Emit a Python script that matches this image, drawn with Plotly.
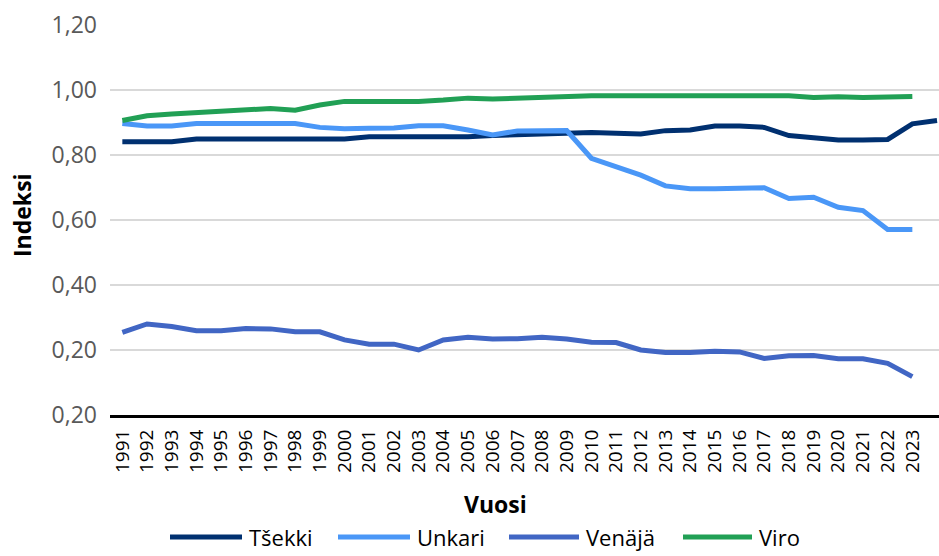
import plotly.graph_objects as go

years = list(range(1991, 2025))
tick_years = list(range(1991, 2024))
tick_labels = [str(y) for y in tick_years]

y_tickvals = [0, 0.2, 0.4, 0.6, 0.8, 1.0, 1.2]
y_ticktext = ["0,20", "0,20", "0,40", "0,60", "0,80", "1,00", "1,20"]

tsekki = [0.841, 0.841, 0.841, 0.849, 0.849, 0.849, 0.849, 0.849, 0.849, 0.849,
          0.856, 0.856, 0.856, 0.856, 0.856, 0.860, 0.862, 0.864, 0.865, 0.869,
          0.867, 0.865, 0.875, 0.877, 0.889, 0.889, 0.885, 0.860, 0.853, 0.846,
          0.846, 0.848, 0.896, 0.906]
unkari = [0.897, 0.889, 0.889, 0.897, 0.897, 0.897, 0.897, 0.897, 0.885, 0.881,
          0.882, 0.883, 0.890, 0.890, 0.877, 0.862, 0.874, 0.874, 0.875, 0.790,
          0.766, 0.738, 0.705, 0.696, 0.696, 0.697, 0.699, 0.666, 0.670, 0.639,
          0.629, 0.571, 0.571]
venaja = [0.254, 0.280, 0.272, 0.259, 0.259, 0.266, 0.265, 0.256, 0.256, 0.231,
          0.218, 0.218, 0.200, 0.231, 0.239, 0.234, 0.235, 0.239, 0.234, 0.224,
          0.223, 0.200, 0.192, 0.192, 0.196, 0.194, 0.174, 0.182, 0.183, 0.173,
          0.173, 0.159, 0.118]
viro = [0.906, 0.921, 0.926, 0.930, 0.933, 0.938, 0.943, 0.938, 0.954, 0.965,
        0.965, 0.965, 0.965, 0.969, 0.975, 0.972, 0.975, 0.977, 0.979, 0.982,
        0.982, 0.982, 0.982, 0.982, 0.982, 0.982, 0.982, 0.982, 0.977, 0.979,
        0.977, 0.980, 0.980]

series_names = ["Tšekki", "Unkari", "Venäjä", "Viro"]
series_values = [tsekki, unkari, venaja, viro]
colors = ["#003070", "#4a97f7", "#4166c4", "#21a055"]

FONT = "Open Sans, Noto Sans, sans-serif"

fig = go.Figure()
for name, vals, col in zip(series_names, series_values, colors):
    fig.add_trace(go.Scatter(
        x=years[:len(vals)], y=vals, name=name, mode="lines",
        line=dict(color=col, width=5), showlegend=False,
    ))

# Plot geometry (pixels) for custom legend placement
L, R, T, B = 110, 939, 25, 415
W, H = R - L, B - T

def px_x(p):
    return (p - L) / W

def px_y(p):
    return (B - p) / H

legend_items = [(170, 242, 247), (338, 410, 415), (509, 579, 584), (683, 752, 757)]
shapes = []
annotations = []
ly = 537
for (x0, x1, tx), name, col in zip(legend_items, series_names, colors):
    shapes.append(dict(type="line", xref="paper", yref="paper",
                       x0=px_x(x0), x1=px_x(x1), y0=px_y(ly), y1=px_y(ly),
                       line=dict(color=col, width=5)))
    annotations.append(dict(text=name, xref="paper", yref="paper",
                            x=px_x(tx), y=px_y(ly), xanchor="left", yanchor="middle",
                            showarrow=False, font=dict(family=FONT, size=22, color="#000000")))

annotations.append(dict(text="<b>Vuosi</b>", xref="paper", yref="paper",
                        x=px_x(495), y=px_y(504), xanchor="center", yanchor="middle",
                        showarrow=False, font=dict(family=FONT, size=23, color="#000000")))
annotations.append(dict(text="<b>Indeksi</b>", xref="paper", yref="paper",
                        x=px_x(22), y=px_y(215), xanchor="center", yanchor="middle",
                        textangle=-90, showarrow=False,
                        font=dict(family=FONT, size=23, color="#000000")))

fig.update_layout(
    width=939, height=556,
    margin=dict(l=L, r=939 - R, t=T, b=556 - B, pad=0),
    paper_bgcolor="white", plot_bgcolor="white",
    font=dict(family=FONT),
    shapes=shapes, annotations=annotations,
    xaxis=dict(
        range=[1990.5, 2024.08], tickmode="array", tickvals=tick_years, ticktext=tick_labels,
        tickangle=-90, tickfont=dict(family=FONT, size=19, color="#000000"),
        showgrid=False, zeroline=False, showline=True, linecolor="#000000", linewidth=3,
        ticks="", ticklabelstandoff=4,
    ),
    yaxis=dict(
        range=[0, 1.2], tickmode="array", tickvals=y_tickvals, ticktext=y_ticktext,
        tickfont=dict(family=FONT, size=23, color="#595959"),
        showgrid=True, gridcolor="#d9d9d9", gridwidth=1.5, zeroline=False,
        showline=False, ticks="", ticklabelstandoff=12,
    ),
)

fig.write_html(
    "out.html",
    config={"displayModeBar": False},
    post_script="document.body.style.margin='0';document.body.style.overflow='hidden';",
)
